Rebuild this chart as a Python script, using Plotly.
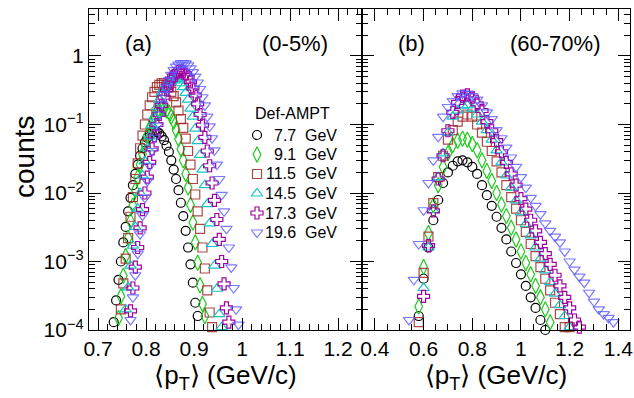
import plotly.graph_objects as go

N = None

# ---------------- data: panel (a) 0-5% ----------------
pt_bins_a = [0.7325, 0.7375, 0.7425, 0.7475, 0.7525, 0.7575, 0.7625, 0.7675, 0.7725, 0.7775,
             0.7825, 0.7875, 0.7925, 0.7975, 0.8025, 0.8075, 0.8125, 0.8175, 0.8225, 0.8275,
             0.8325, 0.8375, 0.8425, 0.8475, 0.8525, 0.8575, 0.8625, 0.8675, 0.8725, 0.8775,
             0.8825, 0.8875, 0.8925, 0.8975, 0.9025, 0.9075, 0.9125, 0.9175, 0.9225, 0.9275,
             0.9325, 0.9375, 0.9425, 0.9475, 0.9525, 0.9575, 0.9625, 0.9675, 0.9725, 0.9775,
             0.9825, 0.9875, 0.9925, 0.9975]

a_77 = [1.3e-4, 2.7e-4, 5.4e-4, 1.0e-3, 1.9e-3, 3.2e-3, 5.4e-3, 8.5e-3, 1.3e-2, 1.9e-2,
        2.6e-2, 3.5e-2, 4.5e-2, 5.5e-2, 6.4e-2, 7.2e-2, 7.8e-2, 7.9e-2, 7.8e-2, 7.4e-2,
        6.7e-2, 5.9e-2, 4.9e-2, 4.0e-2, 3.0e-2, 2.2e-2, 1.6e-2, 1.1e-2, 7.2e-3, 4.6e-3,
        2.8e-3, 1.6e-3, 9.1e-4, 4.9e-4, 2.5e-4, 1.6e-4] + [N] * 18

a_91 = [N] * 2 + [1.5e-4, 3.1e-4, 6.2e-4, 1.2e-3, 2.2e-3, 3.9e-3, 6.6e-3, 1.1e-2, 1.7e-2, 2.6e-2,
                  3.7e-2, 5.1e-2, 6.9e-2, 8.9e-2, 0.11, 0.13, 0.15, 0.16, 0.17, 0.17,
                  0.16, 0.15, 0.13, 0.11, 8.3e-2, 6.2e-2, 4.4e-2, 3.0e-2, 1.9e-2, 1.2e-2,
                  6.7e-3, 3.7e-3, 1.9e-3, 9.6e-4, 4.5e-4, 2.4e-4, 1.6e-4] + [N] * 15

a_115 = [N] * 3 + [2.0e-4, 4.8e-4, 1.1e-3, 2.2e-3, 4.5e-3, 8.7e-3, 1.6e-2, 2.7e-2, 4.5e-2, 6.9e-2,
                   0.10, 0.14, 0.19, 0.25, 0.30, 0.35, 0.38, 0.40, 0.40, 0.38,
                   0.35, 0.30, 0.26, 0.21, 0.16, 0.12, 8.9e-2, 6.2e-2, 4.1e-2, 2.6e-2,
                   1.6e-2, 9.5e-3, 5.4e-3, 3.0e-3, 1.6e-3, 7.9e-4, 3.8e-4, 1.8e-4, 1.1e-4] + [N] * 12

a_145 = [N] * 5 + [2.0e-4, 4.2e-4, 8.7e-4, 1.7e-3, 3.2e-3, 5.9e-3, 1.0e-2, 1.8e-2, 2.9e-2, 4.5e-2,
                   6.7e-2, 9.7e-2, 0.13, 0.18, 0.23, 0.29, 0.34, 0.39, 0.43, 0.45,
                   0.46, 0.46, 0.44, 0.40, 0.35, 0.29, 0.23, 0.17, 0.13, 8.7e-2,
                   5.7e-2, 3.6e-2, 2.2e-2, 1.3e-2, 6.9e-3, 3.6e-3, 1.8e-3, 8.7e-4, 4.0e-4, 1.7e-4,
                   1.1e-4] + [N] * 8

a_173 = [N] * 7 + [1.9e-4, 4.1e-4, 8.3e-4, 1.6e-3, 3.1e-3, 5.7e-3, 1.0e-2, 1.7e-2, 2.8e-2, 4.4e-2,
                   6.8e-2, 0.10, 0.14, 0.19, 0.25, 0.32, 0.39, 0.46, 0.51, 0.56,
                   0.59, 0.60, 0.59, 0.55, 0.49, 0.42, 0.34, 0.27, 0.20, 0.14,
                   9.8e-2, 6.5e-2, 4.1e-2, 2.5e-2, 1.4e-2, 7.8e-3, 4.1e-3, 2.1e-3, 1.0e-3, 4.7e-4,
                   2.1e-4, 1.3e-4] + [N] * 5

a_196 = [N] * 7 + [1.4e-4, 3.0e-4, 6.3e-4, 1.3e-3, 2.5e-3, 4.7e-3, 8.5e-3, 1.5e-2, 2.5e-2, 4.1e-2,
                   6.4e-2, 9.6e-2, 0.14, 0.20, 0.27, 0.35, 0.44, 0.53, 0.62, 0.70,
                   0.75, 0.79, 0.79, 0.78, 0.73, 0.66, 0.58, 0.50, 0.41, 0.33,
                   0.25, 0.19, 0.13, 9.4e-2, 6.3e-2, 4.2e-2, 2.6e-2, 1.6e-2, 9.4e-3, 5.4e-3,
                   3.0e-3, 1.6e-3, 8.2e-4, 4.1e-4, 2.0e-4, 1.2e-4] + [N] * 1

# ---------------- data: panel (b) 60-70% ----------------
pt_bins_b = [0.54, 0.56, 0.58, 0.60, 0.62, 0.64, 0.66, 0.68, 0.70, 0.72,
             0.74, 0.76, 0.78, 0.80, 0.82, 0.84, 0.86, 0.88, 0.90, 0.92,
             0.94, 0.96, 0.98, 1.00, 1.02, 1.04, 1.06, 1.08, 1.10, 1.12,
             1.14, 1.16, 1.18, 1.20, 1.22, 1.24, 1.26, 1.28, 1.30, 1.32,
             1.34, 1.36, 1.38]

b_77 = [N] * 2 + [1.6e-4, 5.6e-4, 1.6e-3, 4.0e-3, 7.9e-3, 1.4e-2, 2.0e-2, 2.5e-2, 2.9e-2, 3.0e-2,
                  2.8e-2, 2.4e-2, 1.9e-2, 1.3e-2, 9.3e-3, 6.5e-3, 4.5e-3, 3.1e-3, 2.1e-3, 1.4e-3,
                  9.5e-4, 6.5e-4, 4.4e-4, 3.0e-4, 2.1e-4, 1.4e-4, 1.0e-4] + [N] * 14

b_91 = [N] * 2 + [2.2e-4, 8.3e-4, 2.6e-3, 6.6e-3, 1.3e-2, 2.4e-2, 3.8e-2, 5.0e-2, 5.8e-2, 6.2e-2,
                  6.0e-2, 5.2e-2, 4.2e-2, 3.0e-2, 2.1e-2, 1.5e-2, 1.0e-2, 6.8e-3, 4.6e-3, 3.1e-3,
                  2.1e-3, 1.4e-3, 9.5e-4, 6.5e-4, 4.4e-4, 3.0e-4, 2.0e-4, 1.3e-4] + [N] * 13

b_115 = [N] * 2 + [1.3e-4, 6.8e-4, 2.3e-3, 7.1e-3, 1.7e-2, 3.5e-2, 6.0e-2, 8.3e-2, 0.11, 0.13,
                   0.14, 0.13, 0.10, 7.6e-2, 5.6e-2, 4.1e-2, 2.9e-2, 2.0e-2, 1.3e-2, 8.7e-3,
                   5.9e-3, 4.0e-3, 2.7e-3, 1.8e-3, 1.2e-3, 8.3e-4, 5.6e-4, 3.8e-4, 2.5e-4, 1.7e-4,
                   1.1e-4, 1.1e-4] + [N] * 9

b_145 = [N] * 3 + [4.1e-4, 1.6e-3, 5.6e-3, 1.7e-2, 3.8e-2, 7.6e-2, 0.13, 0.16, 0.19, 0.19,
                   0.17, 0.14, 0.11, 8.3e-2, 6.0e-2, 4.2e-2, 2.8e-2, 1.8e-2, 1.2e-2, 7.8e-3,
                   5.2e-3, 3.5e-3, 2.4e-3, 1.6e-3, 1.1e-3, 7.4e-4, 5.0e-4, 3.4e-4, 2.3e-4, 1.6e-4,
                   1.1e-4] + [N] * 9

b_173 = [N] * 3 + [3.1e-4, 1.7e-3, 5.5e-3, 1.6e-2, 3.5e-2, 8.1e-2, 0.15, 0.21, 0.26, 0.27,
                   0.25, 0.20, 0.16, 0.11, 8.1e-2, 5.8e-2, 4.0e-2, 2.8e-2, 1.9e-2, 1.3e-2,
                   8.3e-3, 5.8e-3, 4.0e-3, 2.8e-3, 1.9e-3, 1.3e-3, 9.1e-4, 6.3e-4, 4.4e-4, 3.0e-4,
                   2.1e-4, 1.4e-4, 1.1e-4] + [N] * 7

b_196 = [1.4e-4, 5.4e-4, 1.8e-3, 5.6e-3, 1.4e-2, 3.0e-2, 6.6e-2, 0.13, 0.18, 0.22,
         0.26, 0.285, 0.28, 0.26, 0.23, 0.19, 0.15, 0.12, 8.3e-2, 6.3e-2,
         4.6e-2, 3.3e-2, 2.4e-2, 1.7e-2, 1.2e-2, 8.5e-3, 6.5e-3, 4.9e-3, 3.6e-3, 2.8e-3,
         2.3e-3, 1.9e-3, 1.4e-3, 1.0e-3, 7.6e-4, 6.0e-4, 4.9e-4, 3.5e-4, 2.6e-4, 2.0e-4,
         1.7e-4, 1.5e-4, 1.3e-4]

energy_labels = ["7.7", "9.1", "11.5", "14.5", "17.3", "19.6"]
panel_a = [a_77, a_91, a_115, a_145, a_173, a_196]
panel_b = [b_77, b_91, b_115, b_145, b_173, b_196]

for arr in panel_a:
    assert len(arr) == len(pt_bins_a)
for arr in panel_b:
    assert len(arr) == len(pt_bins_b)

# ---------------- styles ----------------
symbols = ["circle-open", "diamond-tall-open", "square-open", "triangle-up-open", "cross-open", "triangle-down-open"]
colors = ["#000000", "#1ecc1e", "rgba(160,40,40,0.85)", "#14c4c4", "#a000a0", "rgba(90,90,255,0.8)"]
sizes = [9, 11, 9, 10, 10, 10]

FONT = "Liberation Sans, Arial, Helvetica, sans-serif"
W, H = 634, 398
ML, MR, MT, MB = 89, 4, 9, 68
PW = W - ML - MR
PH = H - MT - MB
split = 273 / PW

fig = go.Figure()

for lab, ya, yb, sym, col, sz in zip(energy_labels, panel_a, panel_b, symbols, colors, sizes):
    mk = dict(symbol=sym, size=sz, color=col, line=dict(width=1.2, color=col))
    fig.add_trace(go.Scatter(x=pt_bins_a, y=ya, mode="markers", marker=mk, xaxis="x", yaxis="y",
                             showlegend=False, cliponaxis=False, name=lab + " GeV"))
    fig.add_trace(go.Scatter(x=pt_bins_b, y=yb, mode="markers", marker=mk, xaxis="x2", yaxis="y2",
                             showlegend=False, cliponaxis=False, name=lab + " GeV"))

# custom legend (paper-pixel layout)
leg_marker_px = 257
leg_num_right_px = 297.5
leg_gev_left_px = 303
leg_rows_px = [135, 154.5, 174, 193.5, 213, 232.5]

def px_x(px):
    return (px - ML) / PW

def px_y(py):
    return (H - MB - py) / PH

for lab, sym, col, sz, row in zip(energy_labels, symbols, colors, sizes, leg_rows_px):
    fig.add_trace(go.Scatter(x=[px_x(leg_marker_px)], y=[px_y(row)], mode="markers",
                             marker=dict(symbol=sym, size=sz, color=col, line=dict(width=1.2, color=col)),
                             xaxis="x3", yaxis="y3", showlegend=False, cliponaxis=False, hoverinfo="skip"))

annotations = []
for lab, row in zip(energy_labels, leg_rows_px):
    annotations.append(dict(x=px_x(leg_num_right_px), y=px_y(row), xref="paper", yref="paper",
                            text=lab, showarrow=False, xanchor="right", yanchor="middle",
                            font=dict(family=FONT, size=16, color="black")))
    annotations.append(dict(x=px_x(leg_gev_left_px), y=px_y(row), xref="paper", yref="paper",
                            text="GeV", showarrow=False, xanchor="left", yanchor="middle",
                            font=dict(family=FONT, size=16, color="black")))
annotations.append(dict(x=px_x(253), y=px_y(113), xref="paper", yref="paper", text="Def-AMPT",
                        showarrow=False, xanchor="left", yanchor="middle",
                        font=dict(family=FONT, size=16, color="black")))
for txt, cx in [("(a)", 138), ("(0-5%)", 295), ("(b)", 411), ("(60-70%)", 555)]:
    annotations.append(dict(x=px_x(cx), y=px_y(43), xref="paper", yref="paper", text=txt,
                            showarrow=False, xanchor="center", yanchor="middle",
                            font=dict(family=FONT, size=22, color="black")))
annotations.append(dict(x=px_x(24), y=px_y(157), xref="paper", yref="paper", text="counts",
                        showarrow=False, xanchor="center", yanchor="middle", textangle=-90,
                        font=dict(family=FONT, size=28, color="black")))

tickfont = dict(family=FONT, size=21, color="black")
titlefont = dict(family=FONT, size=26, color="black")
common = dict(showline=True, linecolor="black", linewidth=1.3, mirror="ticks", ticks="inside",
              ticklen=12, tickwidth=1, tickcolor="black", showgrid=False, zeroline=False,
              tickfont=tickfont)

log_minor = [m * 10.0 ** e for e in range(-4, 1) for m in range(2, 10)] + [2, 3, 4]
ytickvals = [1e-4, 1e-3, 1e-2, 1e-1, 1]
yticktext = ["10<sup>\u22124</sup>", "10<sup>\u22123</sup>", "10<sup>\u22122</sup>", "10<sup>\u22121</sup>", "1"]
yrange = [-4, 0.686]

xtitle = "\u27e8p<sub>T</sub>\u27e9 (GeV/c)"

fig.update_layout(
    width=W, height=H,
    margin=dict(l=ML, r=MR, t=MT, b=MB, autoexpand=False),
    paper_bgcolor="white", plot_bgcolor="rgba(0,0,0,0)",
    font=dict(family=FONT, color="black"),
    xaxis=dict(common, domain=[0, split], range=[0.681, 1.25],
               tickvals=[0.7, 0.8, 0.9, 1.0, 1.1, 1.2], ticktext=["0.7", "0.8", "0.9", "1", "1.1", "1.2"],
               minor=dict(ticks="inside", ticklen=6, tickwidth=1, tickcolor="black", dtick=0.02, tick0=0.7, showgrid=False),
               title=dict(text=xtitle, font=titlefont, standoff=0), anchor="y"),
    xaxis2=dict(common, domain=[split, 1], range=[0.347, 1.448],
                tickvals=[0.4, 0.6, 0.8, 1.0, 1.2, 1.4], ticktext=["0.4", "0.6", "0.8", "1", "1.2", "1.4"],
                minor=dict(ticks="inside", ticklen=6, tickwidth=1, tickcolor="black", dtick=0.05, tick0=0.4, showgrid=False),
                title=dict(text=xtitle, font=titlefont, standoff=0), anchor="y2"),
    yaxis=dict(common, type="log", range=yrange, tickvals=ytickvals, ticktext=yticktext,
               minor=dict(ticks="inside", ticklen=6, tickwidth=1, tickcolor="black", tickvals=log_minor, showgrid=False),
               anchor="x", domain=[0, 1]),
    yaxis2=dict(common, type="log", range=yrange, tickvals=ytickvals, showticklabels=False,
                minor=dict(ticks="inside", ticklen=6, tickwidth=1, tickcolor="black", tickvals=log_minor, showgrid=False),
                anchor="x2", domain=[0, 1]),
    xaxis3=dict(domain=[0, 1], range=[0, 1], visible=False, anchor="y3", fixedrange=True),
    yaxis3=dict(domain=[0, 1], range=[0, 1], visible=False, anchor="x3", fixedrange=True),
    annotations=annotations,
    showlegend=False,
)

fig.write_html("out.html", config={"displayModeBar": False},
               post_script="document.body.style.margin='0';document.body.style.padding='0';")
